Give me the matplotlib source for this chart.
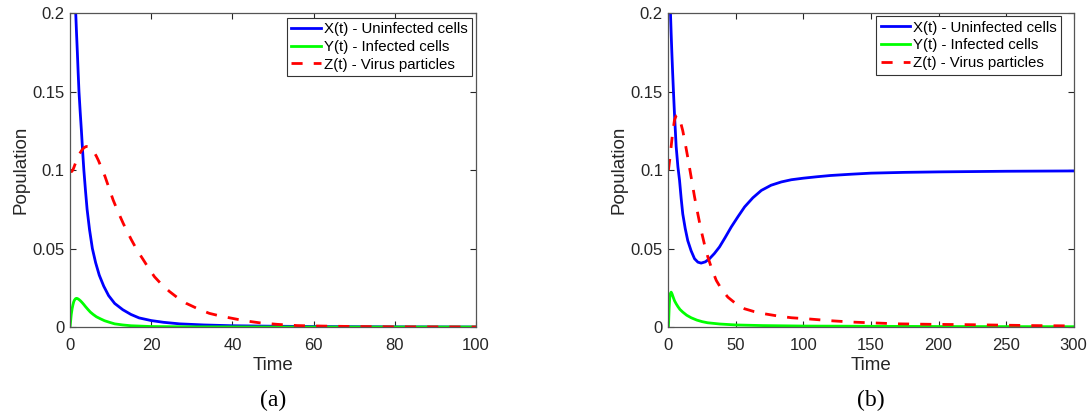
import numpy as np
import matplotlib
matplotlib.use("Agg")
import matplotlib.pyplot as plt

plt.rcParams['font.family'] = ['Liberation Sans', 'DejaVu Sans']

# ---- panel (a): values ----
xa_t = [1.0, 1.2, 1.4, 1.6, 1.8, 2.0, 2.2, 2.5, 2.8, 3.1, 3.4, 3.8, 4.2, 4.8, 5.5, 6.3,
        7.2, 8.3, 9.5, 11, 13, 15, 17, 20, 23, 27, 33, 40, 50, 60, 80, 100]
xa_v = [0.24, 0.22, 0.2, 0.187, 0.175, 0.162, 0.15, 0.137, 0.125, 0.112, 0.1, 0.087,
        0.075, 0.062, 0.05, 0.041, 0.033, 0.026, 0.02, 0.015, 0.011, 0.008, 0.0058,
        0.0041, 0.003, 0.002, 0.0013, 0.0008, 0.0005, 0.0003, 0.0001, 0.0]
ya_t = [0, 0.15, 0.3, 0.5, 0.7, 0.9, 1.1, 1.35, 1.6, 1.9, 2.2, 2.6, 3, 3.4, 3.8, 4.4,
        5, 5.7, 6.5, 7.5, 8.5, 9.7, 11, 13, 15, 20, 30, 50, 100]
ya_v = [0, 0.004, 0.008, 0.0115, 0.014, 0.016, 0.0172, 0.018, 0.0183, 0.018, 0.0175,
        0.0166, 0.0155, 0.0143, 0.013, 0.0112, 0.0095, 0.008, 0.0065, 0.0052, 0.004,
        0.003, 0.002, 0.0013, 0.0008, 0.0003, 0.0001, 0, 0]
za_t = [0, 0.2, 0.4, 0.7, 1, 1.5, 2, 2.5, 3, 3.5, 4, 4.5, 5, 5.5, 6, 6.5, 7, 7.8, 8.6,
        9.6, 10.6, 11.8, 13.1, 14.1, 15.1, 16.5, 18, 19.4, 20.8, 22.6, 24.5, 26.5, 28.6,
        31.4, 34.3, 37, 40, 43, 46.6, 51, 56, 62, 70, 80, 100]
za_v = [0.1, 0.0995, 0.099, 0.1, 0.102, 0.1055, 0.109, 0.111, 0.113, 0.1143, 0.115,
        0.1148, 0.114, 0.1128, 0.111, 0.1087, 0.106, 0.101, 0.096, 0.0885, 0.081, 0.0735,
        0.066, 0.0607, 0.0556, 0.049, 0.043, 0.0373, 0.032, 0.027, 0.0226, 0.0186, 0.0151,
        0.0117, 0.0087, 0.007, 0.0055, 0.004, 0.0027, 0.0017, 0.0009, 0.0006, 0.0003,
        0.0001, 0]

# ---- panel (b) ----
xb_t = [1.0, 1.5, 2, 2.5, 3.1, 3.7, 4.5, 5.7, 7, 8.2, 9.4, 10.6, 12.4, 14.3, 16.8, 19.3,
        21.8, 24.2, 27.3, 30.4, 34, 37.8, 42, 46.5, 51.5, 56.4, 62.5, 68.8, 76, 83.6, 91,
        100, 110, 120, 135, 150, 175, 200, 250, 300]
xb_v = [0.23, 0.2, 0.187, 0.175, 0.162, 0.15, 0.135, 0.115, 0.102, 0.0935, 0.082, 0.072,
        0.0628, 0.055, 0.0485, 0.0435, 0.0413, 0.0407, 0.0415, 0.0435, 0.0468, 0.051,
        0.057, 0.0637, 0.0703, 0.0765, 0.0823, 0.087, 0.0903, 0.0924, 0.0938, 0.0948,
        0.0957, 0.0965, 0.0973, 0.098, 0.0985, 0.0988, 0.0992, 0.0994]
yb_t = [0, 0.25, 0.5, 0.75, 1, 1.5, 2, 2.7, 3.5, 4.5, 5.7, 7, 8.5, 10.6, 13.5, 16.8, 21,
        25, 29, 38, 50, 70, 100, 200, 300]
yb_v = [0, 0.006, 0.012, 0.016, 0.019, 0.0215, 0.0222, 0.021, 0.019, 0.0167, 0.0148,
        0.013, 0.0112, 0.0095, 0.0075, 0.0059, 0.0044, 0.0034, 0.0027, 0.0019, 0.0013,
        0.0009, 0.0006, 0.0003, 0.0002]
zb_t = [0, 1, 2, 3, 4.5, 5.7, 6.9, 8.5, 10.6, 12.4, 14.3, 16.8, 19.3, 21.8, 24.2, 26.7,
        29.2, 32.3, 35.4, 39.5, 44, 50, 56.4, 63.5, 71.2, 81, 91, 103, 120, 137, 155, 171,
        195, 221, 245, 270, 300]
zb_v = [0.1, 0.107, 0.115, 0.123, 0.132, 0.1345, 0.135, 0.132, 0.125, 0.117, 0.108,
        0.0955, 0.083, 0.0718, 0.0616, 0.0525, 0.0445, 0.0365, 0.0297, 0.0238, 0.019,
        0.0148, 0.0116, 0.0098, 0.0084, 0.007, 0.0059, 0.0052, 0.004, 0.0031, 0.0025,
        0.002, 0.0017, 0.0015, 0.0012, 0.0009, 0.0007]

labels = ['X(t) - Uninfected cells', 'Y(t) - Infected cells', 'Z(t) - Virus particles']

fig = plt.figure(figsize=(10.91, 4.18), dpi=100)
ax_a = fig.add_axes([0.0642, 0.2177, 0.3721, 0.7512])
ax_b = fig.add_axes([0.6127, 0.2177, 0.3713, 0.7512])

panels = [
    (ax_a, xa_t, xa_v, ya_t, ya_v, za_t, za_v, 100, [0, 20, 40, 60, 80, 100], '(a)', (0.99, 0.985)),
    (ax_b, xb_t, xb_v, yb_t, yb_v, zb_t, zb_v, 300, [0, 50, 100, 150, 200, 250, 300], '(b)', (0.97, 0.99)),
]

for ax, xt, xv, yt, yv, zt, zv, tmax, xticks, cap, anchor in panels:
    ax.plot(xt, xv, color='#0000ff', lw=2, label=labels[0])
    ax.plot(yt, yv, color='#00ff00', lw=2, label=labels[1])
    ax.plot(zt, zv, color='#ff0000', lw=2, dashes=(4, 4), label=labels[2])
    ax.set_xlim(0, tmax)
    ax.set_ylim(0, 0.2)
    ax.set_xticks(xticks)
    ax.set_yticks([0, 0.05, 0.1, 0.15, 0.2])
    ax.set_yticklabels(['0', '0.05', '0.1', '0.15', '0.2'])
    ax.tick_params(direction='in', top=True, right=True, length=4, width=0.8,
                   colors='#262626', labelsize=12, pad=4)
    ax.tick_params(axis='x', pad=8)
    for sp in ax.spines.values():
        sp.set_color('#555555')
        sp.set_linewidth(0.9)
    ax.set_xlabel('Time', fontsize=13.5, color='#262626', labelpad=3)
    ax.set_ylabel('Population', fontsize=13.5, color='#262626', labelpad=2)
    leg = ax.legend(loc='upper right', bbox_to_anchor=anchor, fontsize=10.8,
                    handlelength=1.95, handletextpad=0.2, borderpad=0.3,
                    labelspacing=0.25, borderaxespad=0.0, fancybox=False,
                    framealpha=1, edgecolor='#333333')
    leg.get_frame().set_linewidth(0.8)
    ax.text(0.5, -0.235, cap, transform=ax.transAxes, ha='center', va='center',
            fontsize=17, family='Liberation Serif')

fig.savefig('out.png', dpi=100)
